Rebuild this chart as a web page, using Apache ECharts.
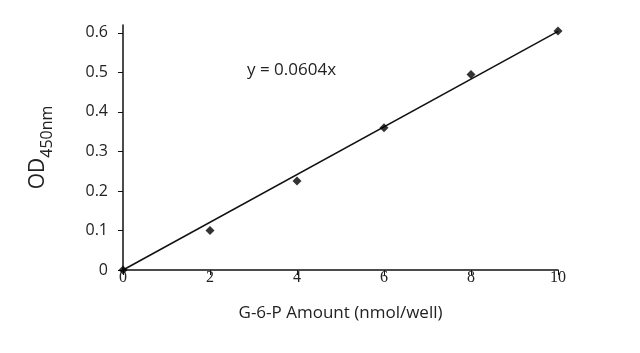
<!DOCTYPE html>
<html><head><meta charset="utf-8">
<script src="https://cdn.jsdelivr.net/npm/echarts@6/dist/echarts.min.js"></script>
<style>html,body{margin:0;padding:0;background:#fff}#c{width:640px;height:353px}</style>
</head><body><div id="c"></div>
<script>
var xValues = [0, 2, 4, 6, 8, 10];
var odValues = [0, 0.10, 0.225, 0.36, 0.495, 0.605];
var trendX = [0, 10];
var trendY = [0, 0.604];
var yTicks = [0, 0.1, 0.2, 0.3, 0.4, 0.5, 0.6];
var equationText = 'y = 0.0604x';

var chart = echarts.init(document.getElementById('c'), null, {renderer: 'canvas'});
chart.setOption({
  animation: false,
  backgroundColor: '#fff',
  grid: {left: 123, right: 82, top: 25, bottom: 83, containLabel: false},
  xAxis: {
    type: 'value', min: 0, max: 10, interval: 2,
    name: 'G-6-P Amount (nmol/well)', nameLocation: 'middle', nameGap: 35,
    nameTextStyle: {fontFamily: 'Open Sans', fontSize: 17, color: '#222'},
    axisLine: {lineStyle: {color: '#111', width: 1.5}},
    axisTick: {show: true, length: 5, lineStyle: {color: '#111', width: 1}},
    axisLabel: {margin: 0, fontFamily: 'Liberation Serif', fontSize: 16, color: '#222'},
    splitLine: {show: false}
  },
  yAxis: {
    type: 'value', min: 0, max: 0.62,
    name: '{a|OD}{b|450nm}', nameLocation: 'middle', nameGap: 74, nameRotate: 90,
    nameTextStyle: {
      rich: {
        a: {fontFamily: 'Open Sans', fontSize: 21, color: '#222', verticalAlign: 'bottom'},
        b: {fontFamily: 'Open Sans', fontSize: 16, color: '#222', verticalAlign: 'bottom', padding: [0, 0, -6, 0]}
      }
    },
    axisLine: {show: true, lineStyle: {color: '#111', width: 1.5}},
    axisTick: {show: true, length: 5, customValues: yTicks, lineStyle: {color: '#111', width: 1}},
    axisLabel: {customValues: yTicks, margin: 15, fontFamily: 'Open Sans', fontSize: 16, color: '#222',
      formatter: function (v) { return v === 0 ? '0' : v.toFixed(1); }},
    splitLine: {show: false}
  },
  graphic: [{
    type: 'text', left: 247, top: 62,
    style: {text: equationText, fontFamily: 'Open Sans', fontSize: 17, fill: '#222'}
  }],
  series: [
    {
      type: 'line', data: trendX.map(function (x, i) { return [x, trendY[i]]; }),
      symbol: 'none', lineStyle: {color: '#111', width: 1.5}, silent: true, z: 2
    },
    {
      type: 'scatter', data: xValues.map(function (x, i) { return [x, odValues[i]]; }),
      symbol: 'diamond', symbolSize: 9, itemStyle: {color: '#000'}, z: 3
    }
  ]
});
</script></body></html>
